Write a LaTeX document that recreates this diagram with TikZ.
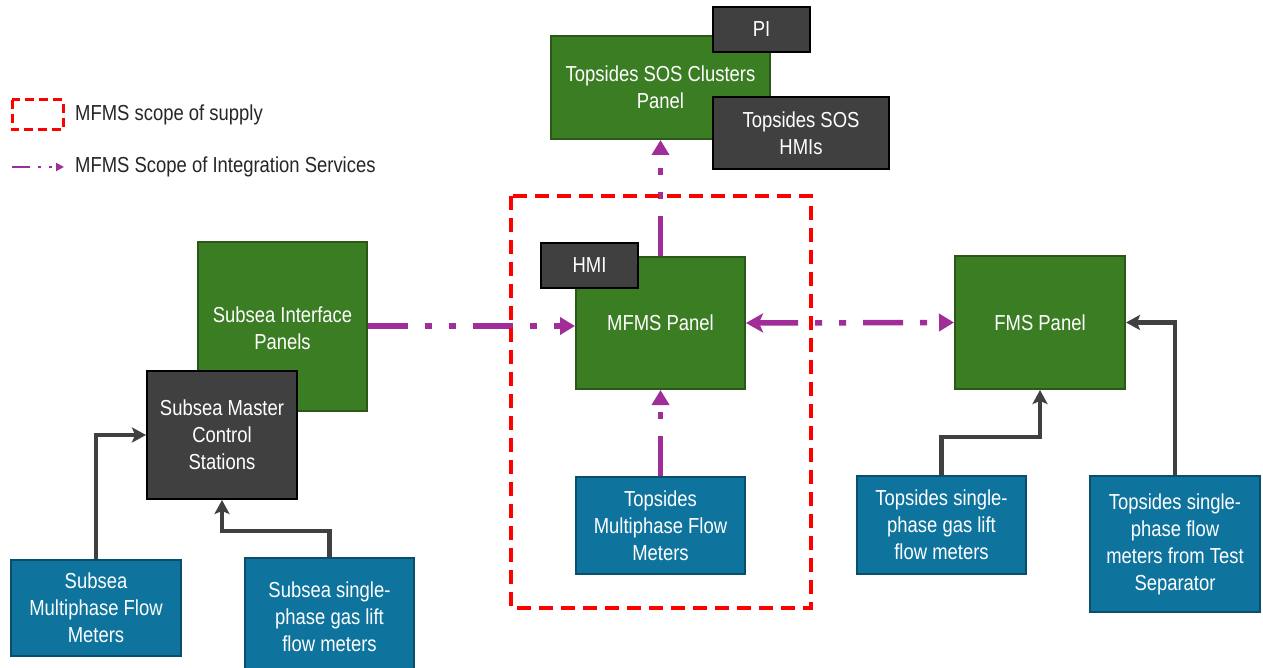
\documentclass[tikz,border=0pt]{standalone}
\usepackage{fontspec}
\setmainfont[FakeStretch=0.85]{Liberation Sans}
\usetikzlibrary{arrows.meta,calc}
\definecolor{gfill}{RGB}{59,125,35}
\definecolor{gline}{RGB}{42,88,25}
\definecolor{bfill}{RGB}{14,116,158}
\definecolor{bline}{RGB}{10,78,108}
\definecolor{dfill}{RGB}{64,64,64}
\definecolor{pur}{RGB}{160,45,152}
\definecolor{arrgray}{RGB}{64,64,64}
\begin{document}
\begin{tikzpicture}[x=1pt,y=-1pt,
  every node/.style={font=\fontsize{21.7}{27}\selectfont, align=center, inner sep=0pt},
  boxbase/.style={draw, line width=2pt, text=white},
  gbox/.style={boxbase, fill=gfill, draw=gline},
  bbox/.style={boxbase, fill=bfill, draw=bline},
  dbox/.style={boxbase, fill=dfill, draw=black},
  pline/.style={draw=pur, line width=5.5pt, dash pattern=on 40pt off 17pt on 7pt off 17pt on 7pt off 17pt},
  ptip/.style={-{Triangle[length=15pt,width=17pt]}},
  garr/.style={draw=arrgray, line width=4.5pt, -{Stealth[length=14pt,width=15pt,inset=3pt]}},
  legtext/.style={anchor=west, text=black!85}
]
\useasboundingbox (0,0) rectangle (1263,668);
\fill[white] (0,0) rectangle (1263,668);

% --- Top cluster ---
\node[gbox, minimum width=219pt, minimum height=103pt] (sosp) at (660.5,87.5) {Topsides SOS Clusters\\Panel};
\node[dbox, minimum width=97pt, minimum height=45pt] (pi) at (761.5,29.5) {PI};
\node[dbox, minimum width=176pt, minimum height=72pt] (soshmi) at (801,133) {Topsides SOS\\HMIs};

% --- MFMS ---
\node[gbox, minimum width=169pt, minimum height=132pt] (mfms) at (660.5,323) {MFMS Panel};
\node[dbox, minimum width=97pt, minimum height=45pt] (hmi) at (589.5,265.5) {HMI};
\node[bbox, minimum width=169pt, minimum height=97pt] (tmpfm) at (660.5,525.5) {Topsides\\Multiphase Flow\\Meters};

% --- FMS ---
\node[gbox, minimum width=170pt, minimum height=133pt] (fms) at (1040,322.5) {FMS Panel};
\node[bbox, minimum width=169pt, minimum height=98pt] (tspgl) at (941.5,525) {Topsides single-\\phase gas lift\\flow meters};
\node[bbox, minimum width=170pt, minimum height=136pt] (tsep) at (1175,544) {Topsides single-\\phase flow\\meters from Test\\Separator};

% --- Subsea ---
\node[gbox, minimum width=169pt, minimum height=169pt, text depth=0pt] (sip) at (282.5,326.5) {};
\node[text=white] (siptext) at (282.5,328) {Subsea Interface\\Panels};
\node[dbox, minimum width=150pt, minimum height=128pt] (smcs) at (222,435) {Subsea Master\\Control\\Stations};
\node[bbox, minimum width=170pt, minimum height=96pt] (smpfm) at (96,608) {Subsea\\Multiphase Flow\\Meters};
\node[bbox, minimum width=169pt, minimum height=118pt] (sspgl) at (329.5,617) {Subsea single-\\phase gas lift\\flow meters};

% --- purple integration connectors ---
\draw[pline, ptip] (sip.east |- 0,326) -- (mfms.west |- 0,326);
\draw[pline, {Stealth[length=17pt,width=19pt,inset=4pt]}-{Triangle[length=15pt,width=17pt]}] (mfms.east) -- (fms.west);
\draw[pline, ptip] (mfms.north) -- (sosp.south);
\draw[pline, ptip] (tmpfm.north) -- (mfms.south);

% --- gray connectors ---
\draw[garr] (smpfm.north) |- (smcs.west);
\draw[garr] (sspgl.north) |- ([yshift=-31pt]smcs.south) -- (smcs.south);
\draw[garr] (tspgl.north) |- ([yshift=-47pt]fms.south) -- (fms.south);
\draw[garr] (tsep.north) |- (fms.east);

% --- scope of supply ---
\draw[red, line width=4pt, dash pattern=on 14pt off 8pt] (511,196) rectangle (811,608);

% --- legend ---
\draw[red, line width=3pt, dash pattern=on 9pt off 5pt] (12,100) rectangle (63,130);
\node[legtext] (leg1) at (75,115) {MFMS scope of supply};
\coordinate (la) at (12,167);
\coordinate (lb) at (64,167);
\draw[draw=pur, line width=2pt, dash pattern=on 18pt off 8pt on 3pt off 8pt on 3pt off 8pt, -{Triangle[length=8pt,width=8pt]}] (la) -- (lb);
\node[legtext] (leg2) at (75,167) {MFMS Scope of Integration Services};
\end{tikzpicture}
\end{document}
